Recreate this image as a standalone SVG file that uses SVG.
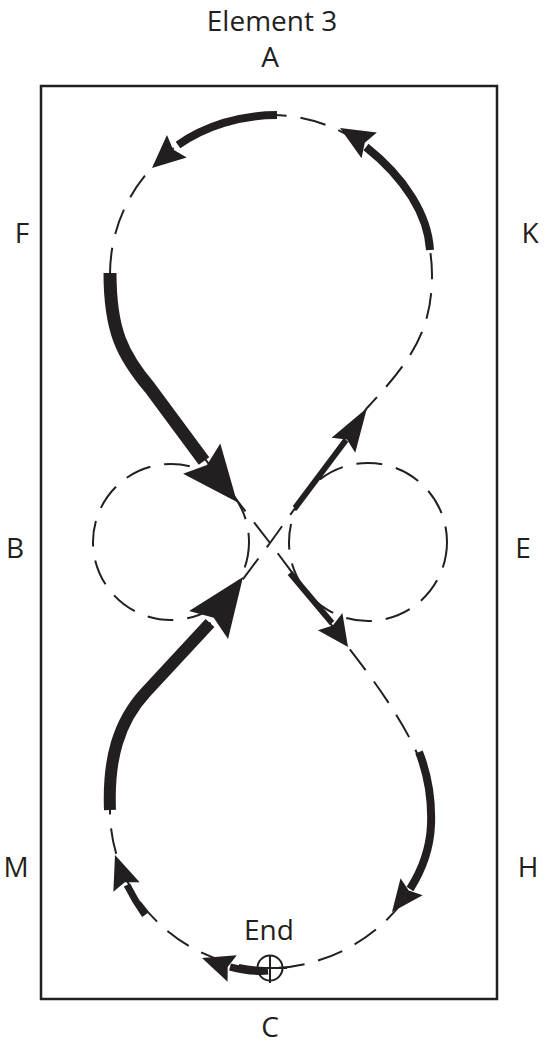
<svg xmlns="http://www.w3.org/2000/svg" xmlns:xlink="http://www.w3.org/1999/xlink" width="545" height="1044" viewBox="0 0 545 1044">
<style>
.lbl{font-family:"Open Sans","Liberation Sans",sans-serif;font-size:28px;fill:#231f20;text-anchor:middle}
.dash{fill:none;stroke:#231f20;stroke-width:2;stroke-dasharray:26 14}
.thick{fill:none;stroke:#231f20;stroke-linejoin:round}
.head{fill:#231f20}
.thin{fill:none;stroke:#231f20;stroke-width:2}
</style>
<defs>
<path id="ah" d="M0,0 L-1,-1 L-0.85,0 L-1,1 Z"/>
</defs>
<rect width="545" height="1044" fill="#ffffff"/>
<g id="arena">
<rect x="41" y="86" width="456" height="913" fill="none" stroke="#231f20" stroke-width="2.5"/>
</g>
<g id="labels">
<text class="lbl" x="272" y="31">Element 3</text>
<text class="lbl" x="270" y="67">A</text>
<text class="lbl" x="22" y="243">F</text>
<text class="lbl" x="530" y="243">K</text>
<text class="lbl" x="15" y="558">B</text>
<text class="lbl" x="523" y="558">E</text>
<text class="lbl" x="16" y="877">M</text>
<text class="lbl" x="528" y="877">H</text>
<text class="lbl" x="270" y="1037">C</text>
<text class="lbl" x="269" y="940">End</text>
</g>
<g id="pattern">
<path class="dash" d="M270,543 L150,388 C122,352 110,325 110,275 C110,180 190,115 272,115 C355,115 432,185 432,275 C432,330 412,360 367,408 L270,543 L210,623 L146,692 C118,722 108,760 110,810 C110,900 185,968 270,968 C350,968 432,905 432,815 C432,770 405,720 348,647 L270,543"/>
<circle class="dash" cx="171" cy="542" r="78"/>
<circle class="dash" cx="368" cy="542" r="79"/>
</g>
<g id="connectors">
<path class="thick" stroke-width="8" d="M277,115 C240,115 205,126 178,145"/>
<use xlink:href="#ah" class="head" transform="translate(152,168) rotate(138.8) scale(33,15)"/>
<path class="thick" stroke-width="8" d="M430,250 C428,215 405,178 366,147"/>
<use xlink:href="#ah" class="head" transform="translate(340,128) rotate(-149.2) scale(34,15)"/>
<path class="thick" stroke-width="13" d="M110,273 C110,330 122,355 150,388 L204,461"/>
<use xlink:href="#ah" class="head" transform="translate(237,502) rotate(50.9) scale(56,24)"/>
<path class="thick" stroke-width="6" d="M295,508 L346,440"/>
<use xlink:href="#ah" class="head" transform="translate(367,408) rotate(-57.6) scale(44,14)"/>
<path class="thick" stroke-width="12" d="M110,810 C108,760 118,722 146,692 L210,623"/>
<use xlink:href="#ah" class="head" transform="translate(243,577) rotate(-54.3) scale(59,24)"/>
<path class="thick" stroke-width="6" d="M290,573 L332,623"/>
<use xlink:href="#ah" class="head" transform="translate(348,647) rotate(54.8) scale(31,15)"/>
<path class="thick" stroke-width="8" d="M419,752 C428,775 432,800 431,825 C430,850 422,870 410,889"/>
<use xlink:href="#ah" class="head" transform="translate(392,912) rotate(127.8) scale(32,14)"/>
<path class="thick" stroke-width="7" d="M145,915 C138,905 132,895 127,885"/>
<use xlink:href="#ah" class="head" transform="translate(115,855) rotate(-109.8) scale(34,14)"/>
<path class="thick" stroke-width="7" d="M268,971 C258,972 245,971 230,967"/>
<use xlink:href="#ah" class="head" transform="translate(202,958) rotate(-160.7) scale(32,14)"/>
</g>
<g id="end-marker">
<circle class="thin" cx="270" cy="968" r="12.5"/>
<line class="thin" x1="257" y1="968" x2="287" y2="968"/>
<line class="thin" x1="270" y1="955" x2="270" y2="983"/>
</g>
</svg>
